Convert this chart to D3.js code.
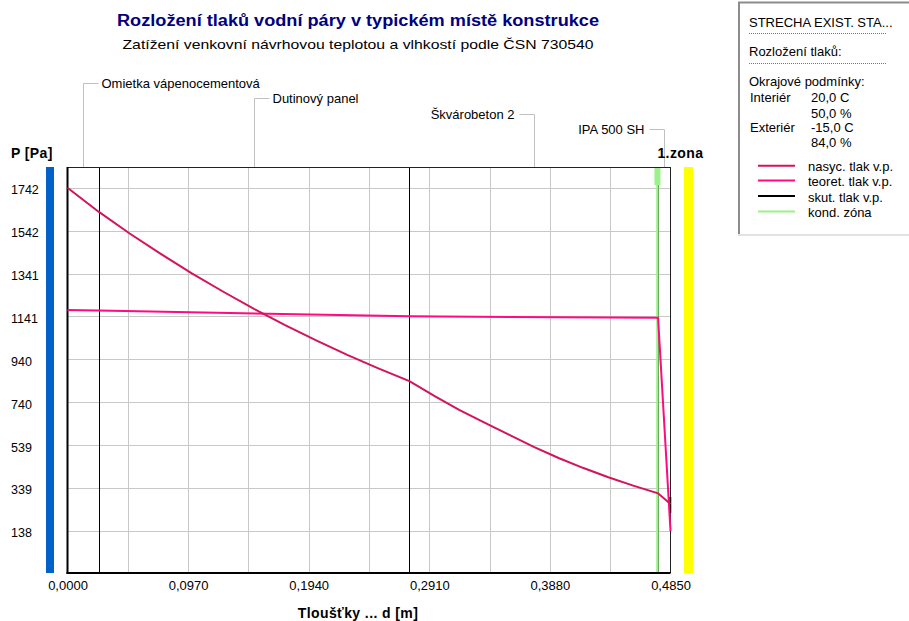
<!DOCTYPE html>
<html>
<head>
<meta charset="utf-8">
<script src="https://cdn.jsdelivr.net/npm/d3@7"></script>
<style>
  html, body { margin: 0; padding: 0; background: #fff; }
  svg text { font-family: "Liberation Sans", Arial, sans-serif; }
</style>
</head>
<body>
<svg id="chart" width="909" height="621"></svg>
<script>
// Layers of the roof construction (interior -> exterior) and their thickness [m]
const layerNames = ["Omietka vápenocementová", "Dutinový panel", "Škvárobeton 2", "IPA 500 SH"];
const layerThickness = [0.025, 0.25, 0.2, 0.01];

// Saturated vapour pressure (nasyc. tlak v.p.) along the thickness
const satX = [0, 0.0125, 0.025, 0.05, 0.075, 0.1, 0.125, 0.15, 0.175, 0.2, 0.225, 0.25, 0.275,
              0.295, 0.315, 0.335, 0.355, 0.375, 0.395, 0.415, 0.435, 0.455, 0.475, 0.485];
const satP = [1742, 1686, 1630, 1528, 1433, 1342, 1257, 1176, 1100, 1029, 961, 898, 838,
              769, 704, 645, 588, 531, 479, 432, 389, 350, 314, 264];

// Theoretical partial vapour pressure (teoret. tlak v.p.)
const theoX = [0, 0.025, 0.275, 0.475, 0.485];
const theoP = [1170, 1168, 1141, 1134, 138];

// Actual partial pressure (skut. tlak v.p.) where it is not covered by the other curves
const realX = [0.4848, 0.4848];
const realP = [297, 222];

// Condensation zone position [m]
const condX = [0.4745];

// Axis ticks
const yTicks = [138, 339, 539, 740, 940, 1141, 1341, 1542, 1742];
const xTicks = [0, 0.097, 0.194, 0.291, 0.388, 0.485];
const xGrid = [0.0485, 0.097, 0.1455, 0.194, 0.2425, 0.291, 0.3395, 0.388, 0.4365];

// Boundary conditions and legend texts
const infoTitle = "STRECHA EXIST. STA...";
const infoSub = "Rozložení tlaků:";
const infoHead = "Okrajové podmínky:";
const climate = [["Interiér", "20,0 C"], ["", "50,0 %"], ["Exteriér", "-15,0 C"], ["", "84,0 %"]];
const legendNames = ["nasyc. tlak v.p.", "teoret. tlak v.p.", "skut. tlak v.p.", "kond. zóna"];

const colSat = "#d3145c", colTheo = "#ff0a80", colReal = "#000000", colCond = "#9cf28a";
const legendColors = [colSat, colTheo, colReal, colCond];

const svg = d3.select("#chart");
const plot = { left: 67.5, right: 670.5, top: 167, bottom: 573 };

const x = d3.scaleLinear().domain([0, 0.485]).range([plot.left, plot.right]);
const y = d3.scaleLinear().domain([-58.4, 1838.8]).range([plot.bottom, plot.top]);

// Titles
svg.append("text").attr("x", 358).attr("y", 26).attr("text-anchor", "middle")
  .attr("font-size", 16).attr("font-weight", "bold").attr("fill", "#000080")
  .attr("textLength", 482).attr("lengthAdjust", "spacingAndGlyphs")
  .text("Rozložení tlaků vodní páry v typickém místě konstrukce");
svg.append("text").attr("x", 358).attr("y", 49).attr("text-anchor", "middle")
  .attr("font-size", 13).attr("fill", "#000")
  .attr("textLength", 471).attr("lengthAdjust", "spacingAndGlyphs")
  .text("Zatížení venkovní návrhovou teplotou a vlhkostí podle ČSN 730540");

// Side bars: interior (blue) and exterior (yellow)
svg.append("rect").attr("x", 46).attr("y", plot.top).attr("width", 8)
  .attr("height", plot.bottom - plot.top).attr("fill", "#0062c8");
svg.append("rect").attr("x", 684).attr("y", plot.top).attr("width", 9)
  .attr("height", plot.bottom - plot.top).attr("fill", "#ffff00");

// Grid
const grid = svg.append("g").attr("stroke", "#c8c8c8").attr("stroke-width", 1);
grid.selectAll("line.h").data(yTicks).join("line").attr("class", "h")
  .attr("x1", plot.left).attr("x2", plot.right)
  .attr("y1", d => Math.round(y(d)) + 0.5).attr("y2", d => Math.round(y(d)) + 0.5);
grid.selectAll("line.v").data(xGrid).join("line").attr("class", "v")
  .attr("x1", d => Math.round(x(d)) + 0.5).attr("x2", d => Math.round(x(d)) + 0.5)
  .attr("y1", plot.top).attr("y2", plot.bottom);

// Layer boundaries and layer labels with leaders
const bounds = d3.cumsum(layerThickness);
const starts = [0, ...bounds.slice(0, -1)];
svg.append("g").selectAll("line").data(bounds.slice(0, -1)).join("line")
  .attr("x1", d => Math.round(x(d)) + 0.5).attr("x2", d => Math.round(x(d)) + 0.5)
  .attr("y1", plot.top).attr("y2", plot.bottom)
  .attr("stroke", "#000").attr("stroke-width", 1);

const leaders = svg.append("g");
layerNames.forEach((name, i) => {
  const mx = Math.round(x((starts[i] + bounds[i]) / 2)) + 0.5;
  const ly = Math.round(83 + i * 15.4) + 0.5;
  const rightSide = mx < 400;
  const hx = rightSide ? mx + 15 : mx - 15;
  leaders.append("path")
    .attr("d", `M${mx},${plot.top}V${ly}H${hx}`)
    .attr("fill", "none").attr("stroke", "#c0c0c0").attr("stroke-width", 1);
  leaders.append("text")
    .attr("x", rightSide ? hx + 3 : hx - 5).attr("y", ly).attr("dy", "0.35em")
    .attr("text-anchor", rightSide ? "start" : "end")
    .attr("font-size", 13).attr("fill", "#000").text(name);
});

// Condensation zone
const cz = svg.append("g");
cz.selectAll("line").data(condX).join("line")
  .attr("x1", d => x(d)).attr("x2", d => x(d))
  .attr("y1", plot.top).attr("y2", plot.bottom)
  .attr("stroke", colCond).attr("stroke-width", 2.5);
cz.selectAll("rect").data(condX).join("rect")
  .attr("x", d => x(d) - 3).attr("y", plot.top).attr("width", 6).attr("height", 18)
  .attr("fill", colCond);
svg.selectAll("text.zone").data(condX).join("text").attr("class", "zone")
  .attr("x", d => x(d)).attr("y", 153).attr("dy", "0.35em")
  .attr("font-size", 14).attr("font-weight", "bold").attr("letter-spacing", 0.4)
  .attr("fill", "#000").text("1.zona");

// Frame
svg.append("line").attr("x1", plot.left).attr("x2", plot.right).attr("y1", plot.top + 0.5).attr("y2", plot.top + 0.5)
  .attr("stroke", "#222").attr("stroke-width", 1);
svg.append("line").attr("x1", plot.right).attr("x2", plot.right).attr("y1", plot.top).attr("y2", plot.bottom)
  .attr("stroke", "#222").attr("stroke-width", 1);
svg.append("line").attr("x1", plot.left).attr("x2", plot.left).attr("y1", plot.top).attr("y2", plot.bottom + 1)
  .attr("stroke", "#000").attr("stroke-width", 2);
svg.append("line").attr("x1", plot.left - 1).attr("x2", plot.right).attr("y1", plot.bottom).attr("y2", plot.bottom)
  .attr("stroke", "#000").attr("stroke-width", 2);

// Curves
const line = d3.line().x(d => x(d[0])).y(d => y(d[1]));
svg.append("path").datum(d3.zip(realX, realP)).attr("d", line)
  .attr("fill", "none").attr("stroke", colReal).attr("stroke-width", 2);
svg.append("path").datum(d3.zip(theoX, theoP)).attr("d", line)
  .attr("fill", "none").attr("stroke", colTheo).attr("stroke-width", 2);
svg.append("path").datum(d3.zip(satX, satP)).attr("d", line)
  .attr("fill", "none").attr("stroke", colSat).attr("stroke-width", 2);

// Y axis labels
svg.append("text").attr("x", 11).attr("y", 153).attr("dy", "0.35em")
  .attr("font-size", 14).attr("font-weight", "bold").attr("letter-spacing", 0.4).text("P [Pa]");
svg.append("g").selectAll("text").data(yTicks).join("text")
  .attr("x", 11).attr("y", d => y(d) + 2).attr("dy", "0.35em")
  .attr("font-size", 12.5).attr("fill", "#000").text(d => d);

// X axis
const fmt = d3.format(".4f");
const xAxis = svg.append("g").attr("transform", `translate(0,${plot.bottom})`)
  .call(d3.axisBottom(x).tickValues(xTicks).tickSize(0).tickPadding(8)
    .tickFormat(d => fmt(d).replace(".", ",")));
xAxis.select(".domain").remove();
xAxis.selectAll("text").attr("font-size", 13).attr("fill", "#000")
  .attr("font-family", "Liberation Sans, Arial, sans-serif");
svg.append("text").attr("x", 358).attr("y", 613).attr("dy", "0.35em").attr("text-anchor", "middle")
  .attr("font-size", 14).attr("font-weight", "bold").attr("letter-spacing", 0.4).text("Tloušťky ... d [m]");

// Info panel
const info = svg.append("g").attr("font-size", 13);
info.append("rect").attr("x", 738).attr("y", 2).attr("width", 180).attr("height", 233)
  .attr("fill", "#fff").attr("stroke", "none");
info.append("path").attr("d", "M739,235V2.5H909").attr("fill", "none")
  .attr("stroke", "#8c8c8c").attr("stroke-width", 2);
info.append("line").attr("x1", 738).attr("x2", 909).attr("y1", 235).attr("y2", 235)
  .attr("stroke", "#e2e2e2").attr("stroke-width", 2);
const tx = 749;
info.append("text").attr("x", tx).attr("y", 22.7).attr("dy", "0.35em").text(infoTitle);
info.append("line").attr("x1", tx).attr("x2", 887).attr("y1", 33.5).attr("y2", 33.5)
  .attr("stroke", "#777").attr("stroke-dasharray", "1,1");
info.append("text").attr("x", tx).attr("y", 51.7).attr("dy", "0.35em").text(infoSub);
info.append("line").attr("x1", tx).attr("x2", 887).attr("y1", 63.5).attr("y2", 63.5)
  .attr("stroke", "#777").attr("stroke-dasharray", "1,1");
info.append("text").attr("x", tx).attr("y", 81).attr("dy", "0.35em").text(infoHead);
const climateY = [97.5, 113, 127, 142.3];
climate.forEach((row, i) => {
  info.append("text").attr("x", 750).attr("y", climateY[i]).attr("dy", "0.35em").text(row[0]);
  info.append("text").attr("x", 811).attr("y", climateY[i]).attr("dy", "0.35em").text(row[1]);
});
const legY = [165.7, 180.5, 196, 211.5];
legendNames.forEach((name, i) => {
  info.append("line").attr("x1", 758).attr("x2", 795).attr("y1", legY[i]).attr("y2", legY[i])
    .attr("stroke", legendColors[i]).attr("stroke-width", 2);
  info.append("text").attr("x", 808).attr("y", legY[i] + 1).attr("dy", "0.35em").text(name);
});
</script>
</body>
</html>
